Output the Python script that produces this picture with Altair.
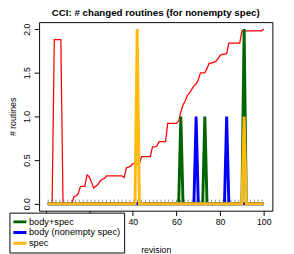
import altair as alt
import pandas as pd

# ---------------- data ----------------
revs = list(range(1, 101))
changed_total = [
    0, 0, 0, 1.88, 1.88, 1.88, 1.88, 0, 0, 0,
    0, 0, 0.08, 0.09, 0.12, 0.2, 0.2, 0.2, 0.33, 0.31,
    0.25, 0.18, 0.2, 0.22, 0.26, 0.28, 0.29, 0.32, 0.32, 0.32,
    0.32, 0.32, 0.32, 0.32, 0.32, 0.30, 0.41, 0.42, 0.43, 0.46,
    0.46, 0.46, 0.46, 0.54, 0.54, 0.54, 0.54, 0.54, 0.65, 0.65,
    0.66, 0.71, 0.71, 0.71, 0.71, 0.92, 0.92, 0.92, 0.92, 0.92,
    0.95, 1.05, 1.13, 1.18, 1.24, 1.27, 1.31, 1.35, 1.37, 1.42,
    1.50, 1.50, 1.50, 1.55, 1.61, 1.61, 1.62, 1.63, 1.66, 1.70,
    1.71, 1.71, 1.72, 1.84, 1.84, 1.84, 1.84, 1.84, 1.84, 1.98,
    1.98, 1.98, 1.98, 1.98, 1.98, 1.98, 1.98, 1.98, 1.98, 2.0,
]
body_spec_spikes = {62: 1, 73: 1, 91: 2}
body_spikes = {69: 1, 83: 1}
spec_spikes = {42: 2, 91: 1}

dot_revs = [1, 100]
green_dot_level = 0.04
blue_dot_level = 0.02

series_names = ["body+spec", "body (nonempty spec)", "spec"]
series_colors = ["#006400", "#0000FF", "#FFB90F"]

x_ticks = [0, 20, 40, 60, 80, 100]
y_ticks = [0, 0.5, 1.0, 1.5, 2.0]

# ---------------- tables ----------------
df_red = pd.DataFrame({"rev": revs, "val": changed_total})

rows = []
for name, spikes in zip(series_names, [body_spec_spikes, body_spikes, spec_spikes]):
    for r in revs:
        rows.append({"rev": r, "val": spikes.get(r, 0), "series": name})
df_spk = pd.DataFrame(rows)

df_gdot = pd.DataFrame({"rev": dot_revs, "val": [green_dot_level] * len(dot_revs)})
df_bdot = pd.DataFrame({"rev": dot_revs, "val": [blue_dot_level] * len(dot_revs)})

FONT = "Liberation Sans"

x_enc = alt.X(
    "rev:Q",
    scale=alt.Scale(domain=[-2.96, 103.96], nice=False, zero=False),
    axis=alt.Axis(values=x_ticks, title="revision", format="d",
                  titleX=120, titleY=40, titleBaseline="middle", titleAlign="center"),
)
y_enc = alt.Y(
    "val:Q",
    scale=alt.Scale(domain=[-0.08, 2.08], nice=False, zero=False),
    axis=alt.Axis(values=y_ticks, title="# routines", format=".1f",
                  labelAngle=-90, labelAlign="center", labelBaseline="bottom",
                  labelPadding=3,
                  titleX=-27, titleY=97, titleAngle=-90,
                  titleBaseline="middle", titleAlign="center"),
)

color_scale = alt.Scale(domain=series_names, range=series_colors)

red = alt.Chart(df_red).mark_line(color="#FF0000", strokeWidth=1.3).encode(x=x_enc, y=y_enc)
gdot = alt.Chart(df_gdot).mark_line(color="#2E7D32", strokeWidth=1, strokeDash=[1, 3]).encode(x="rev:Q", y="val:Q")
bdot = alt.Chart(df_bdot).mark_line(color="#3333FF", strokeWidth=1, strokeDash=[1, 3]).encode(x="rev:Q", y="val:Q")

legend = alt.Legend(
    title=None, orient="none", legendX=-30.5, legendY=196,
    symbolType="M-2,0H2", symbolStrokeWidth=3, symbolSize=64,
    symbolFillColor="transparent",
    labelFont=FONT, labelFontSize=9.5, labelColor="black", labelOffset=5,
    padding=4, rowPadding=0, clipHeight=11,
    fillColor="white", strokeColor="black",
)

layers = []
for name in series_names:
    layers.append(
        alt.Chart(df_spk).transform_filter(alt.datum.series == name)
        .mark_line(strokeWidth=3)
        .encode(x="rev:Q", y="val:Q",
                color=alt.Color("series:N", scale=color_scale, legend=legend))
    )

chart = alt.layer(red, gdot, bdot, *layers).properties(
    width=240, height=194,
    autosize=alt.AutoSizeParams(type="none"),
    padding={"left": 32, "top": 11, "right": 14, "bottom": 41},
    background="white",
    title=alt.TitleParams("CCI: # changed routines (for nonempty spec)",
                          font=FONT, fontSize=10, fontWeight="bold",
                          anchor="middle", offset=4, color="black"),
).configure_view(
    stroke="black", strokeWidth=1, fill="white"
).configure_axis(
    domain=False, grid=False, ticks=True, tickColor="black", tickSize=5,
    labelFont=FONT, labelFontSize=9, labelColor="black",
    titleFont=FONT, titleFontSize=9, titleFontWeight="normal", titleColor="black",
)

chart.save("out.html", embed_options={"renderer": "svg", "actions": False})
